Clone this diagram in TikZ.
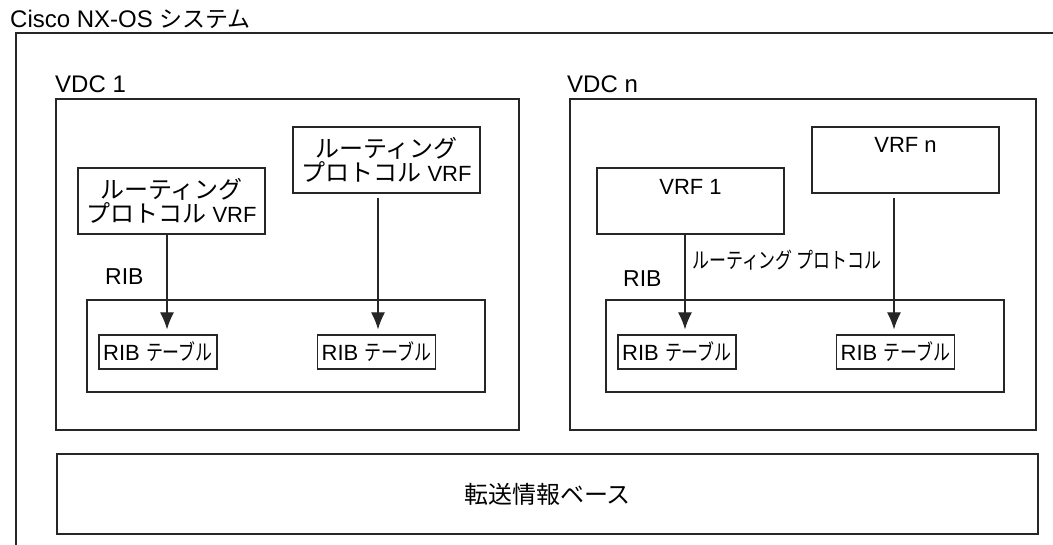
\documentclass[tikz,border=0pt]{standalone}
\usepackage{fontspec}
\usepackage{graphicx}
\setmainfont{Liberation Sans}
\newfontfamily\jp{Noto Sans CJK JP}
\usetikzlibrary{arrows.meta}
\tikzset{box/.style={draw=black!85, line width=1.2pt, inner sep=0pt},
 vdc/.style={box, minimum height=331pt},
 vrf/.style={box, minimum width=187pt, minimum height=66pt, align=center,
  font=\fontsize{22}{24}\selectfont},
 rib/.style={box, minimum width=398pt, minimum height=92pt},
 tab/.style={box, minimum width=118pt, minimum height=34pt,
  font=\fontsize{22}{24}\selectfont},
 head/.style={anchor=base west, inner sep=0pt, font=\fontsize{24}{26}\selectfont},
 feed/.style={draw=black!85, line width=1.2pt, -{Latex[length=17pt,width=14pt]}},
 }
\newcommand{\bigjp}[1]{{\fontsize{24}{24}\jp #1}}
\newcommand{\narrowjp}[1]{\scalebox{0.77}[1]{\jp #1}}

\begin{document}
\begin{tikzpicture}[x=1pt,y=-1pt]
        \useasboundingbox (0,0) rectangle (1053,545);
        \draw[draw=black!85, line width=1.2pt] (1060,33) -| (16,552);
        \node[head] (sys) at (10,28) {Cisco NX-OS {\fontsize{23}{24}\jp システム}};
        % VDC 1
        \node[vdc, minimum width=463pt] (vdcA) at (287.5,264.5) {};
        \node[head] (vdcAtxt) at (55,93) {VDC 1};
        \node[vrf] (vrfA) at (171.5,201) {\bigjp{ルーティング}\\\bigjp{プロトコル} VRF};
        \node[vrf] (vrfB) at (386.5,160) {\bigjp{ルーティング}\\\bigjp{プロトコル} VRF};
        \node[head, font=\fontsize{23}{24}\selectfont] (ribAtxt) at (105,285) {RIB};
        \node[rib] (ribA) at (286,346) {};
        \node[tab] (tabA) at (158,352) {RIB \narrowjp{テーブル}};
        \node[tab] (tabB) at (376.5,352) {RIB \narrowjp{テーブル}};
        \draw[feed, shorten >=5pt] ([xshift=-4.5pt]vrfA.south) -- ([xshift=9pt]tabA.north);
        \draw[feed, shorten <=4pt, shorten >=5pt] ([xshift=-8.5pt]vrfB.south) -- ([xshift=1.5pt]tabB.north);
        % VDC n
        \node[vdc, minimum width=466pt] (vdcN) at (803,264.5) {};
        \node[head] (vdcNtxt) at (567,93) {VDC n};
        \node[vrf, label={[anchor=north, yshift=-12pt, inner sep=0pt, font=\fontsize{22}{24}\selectfont]north:VRF 1}] (vrfC) at (690.5,201) {};
        \node[vrf, label={[anchor=north, yshift=-11pt, inner sep=0pt, font=\fontsize{22}{24}\selectfont]north:VRF n}] (vrfD) at (905.5,160) {};
        \node[head, font=\fontsize{23}{24}\selectfont] (ribNtxt) at (623,287) {RIB};
        \node[rib] (ribN) at (805,346) {};
        \node[tab] (tabC) at (677,352) {RIB \narrowjp{テーブル}};
        \node[tab] (tabD) at (895.5,352) {RIB \narrowjp{テーブル}};
        \draw[feed, shorten >=5pt] ([xshift=-5.5pt]vrfC.south) -- ([xshift=8pt]tabC.north);
        \draw[feed, shorten <=4pt, shorten >=5pt] ([xshift=-11.5pt]vrfD.south) -- ([xshift=-1.5pt]tabD.north);
        \node[anchor=west, inner sep=0pt, font=\fontsize{22}{24}\selectfont] (proto) at (692,260) {\narrowjp{ルーティング プロトコル}};
        % forwarding
        \node[box, minimum width=981pt, minimum height=80pt] (fib) at (547.5,494) {\bigjp{転送情報ベース}};
\end{tikzpicture}
\end{document}
